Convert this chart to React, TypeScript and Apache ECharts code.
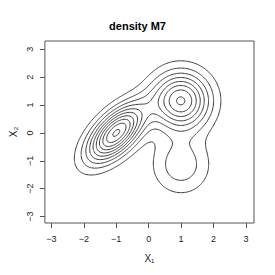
import React, { useEffect, useRef } from "react";
import * as echarts from "echarts";

// Normal-mixture parameters of density M7 (trimodal)
const weights = [3 / 7, 3 / 7, 1 / 7];
const meansX = [-1, 1, 1];
const meansY = [0, 1.1547, -1.1547];
const sdX = [0.6, 0.6, 0.6];
const sdY = [0.7, 0.7, 0.7];
const rho = [0.6, 0, 0];

const levels = [0.02, 0.04, 0.06, 0.08, 0.1, 0.12, 0.14, 0.16, 0.18, 0.2];
const xTicks = [-3, -2, -1, 0, 1, 2, 3];
const yTicks = [-3, -2, -1, 0, 1, 2, 3];

function density(x: number, y: number): number {
  let s = 0;
  for (let k = 0; k < weights.length; k++) {
    const dx = (x - meansX[k]) / sdX[k];
    const dy = (y - meansY[k]) / sdY[k];
    const r = rho[k];
    const q = dx * dx - 2 * r * dx * dy + dy * dy;
    s += (weights[k] / (2 * Math.PI * sdX[k] * sdY[k] * Math.sqrt(1 - r * r))) * Math.exp(-q / (2 * (1 - r * r)));
  }
  return s;
}

function contourLines(level: number, x0: number, y0: number, h: number, n: number, f: number[][]) {
  const pts: Record<string, [number, number]> = {};
  const segs: [string, string][] = [];
  const pt = (key: string, i: number, j: number, horiz: boolean) => {
    if (pts[key]) return key;
    const a = f[i][j];
    const b = horiz ? f[i + 1][j] : f[i][j + 1];
    const t = (level - a) / (b - a);
    pts[key] = horiz ? [x0 + (i + t) * h, y0 + j * h] : [x0 + i * h, y0 + (j + t) * h];
    return key;
  };
  for (let i = 0; i < n - 1; i++) {
    for (let j = 0; j < n - 1; j++) {
      const bl = f[i][j] > level ? 1 : 0;
      const br = f[i + 1][j] > level ? 2 : 0;
      const tr = f[i + 1][j + 1] > level ? 4 : 0;
      const tl = f[i][j + 1] > level ? 8 : 0;
      const c = bl | br | tr | tl;
      if (c === 0 || c === 15) continue;
      const B = () => pt(`h${i},${j}`, i, j, true);
      const T = () => pt(`h${i},${j + 1}`, i, j + 1, true);
      const L = () => pt(`v${i},${j}`, i, j, false);
      const R = () => pt(`v${i + 1},${j}`, i + 1, j, false);
      const center = (f[i][j] + f[i + 1][j] + f[i + 1][j + 1] + f[i][j + 1]) / 4 > level;
      switch (c) {
        case 1: segs.push([L(), B()]); break;
        case 2: segs.push([B(), R()]); break;
        case 3: segs.push([L(), R()]); break;
        case 4: segs.push([R(), T()]); break;
        case 5:
          if (center) { segs.push([B(), R()]); segs.push([T(), L()]); }
          else { segs.push([L(), B()]); segs.push([R(), T()]); }
          break;
        case 6: segs.push([B(), T()]); break;
        case 7: segs.push([L(), T()]); break;
        case 8: segs.push([T(), L()]); break;
        case 9: segs.push([B(), T()]); break;
        case 10:
          if (center) { segs.push([L(), B()]); segs.push([R(), T()]); }
          else { segs.push([B(), R()]); segs.push([T(), L()]); }
          break;
        case 11: segs.push([R(), T()]); break;
        case 12: segs.push([L(), R()]); break;
        case 13: segs.push([B(), R()]); break;
        case 14: segs.push([L(), B()]); break;
      }
    }
  }
  const adj: Record<string, number[]> = {};
  segs.forEach((s, idx) => {
    (adj[s[0]] = adj[s[0]] || []).push(idx);
    (adj[s[1]] = adj[s[1]] || []).push(idx);
  });
  const used = new Array(segs.length).fill(false);
  const lines: [number, number][][] = [];
  for (let s = 0; s < segs.length; s++) {
    if (used[s]) continue;
    used[s] = true;
    const keys = [segs[s][0], segs[s][1]];
    let cur = segs[s][1];
    while (true) {
      const nxt = (adj[cur] || []).find((k) => !used[k]);
      if (nxt === undefined) break;
      used[nxt] = true;
      cur = segs[nxt][0] === cur ? segs[nxt][1] : segs[nxt][0];
      keys.push(cur);
    }
    cur = segs[s][0];
    while (true) {
      const nxt = (adj[cur] || []).find((k) => !used[k]);
      if (nxt === undefined) break;
      used[nxt] = true;
      cur = segs[nxt][0] === cur ? segs[nxt][1] : segs[nxt][0];
      keys.unshift(cur);
    }
    lines.push(keys.map((k) => pts[k]));
  }
  return lines;
}

const fmt = (v: number) => (v < 0 ? "\u2212" + Math.abs(v) : String(v));

export default function App() {
  const ref = useRef<HTMLDivElement>(null);
  useEffect(() => {
    if (!ref.current) return;
    const chart = echarts.init(ref.current, undefined, { renderer: "svg" });
    const x0 = -3.4, y0 = -3.4, h = 0.02;
    const n = Math.round(6.8 / h) + 1;
    const f: number[][] = [];
    for (let i = 0; i < n; i++) {
      const row: number[] = [];
      for (let j = 0; j < n; j++) row.push(density(x0 + i * h, y0 + j * h));
      f.push(row);
    }
    const series: any[] = [];
    levels.forEach((lv) => {
      contourLines(lv, x0, y0, h, n, f).forEach((line) => {
        series.push({
          type: "line",
          data: line,
          showSymbol: false,
          symbol: "none",
          silent: true,
          lineStyle: { color: "#3a3a3a", width: 1 },
        });
      });
    });
    const font = "Liberation Sans, Arial, Helvetica, sans-serif";
    chart.setOption({
      animation: false,
      title: {
        text: "density M7",
        left: "center",
        top: 15,
        textStyle: { fontFamily: font, fontSize: 11, fontWeight: "bold", color: "#000" },
      },
      grid: {
        left: 42,
        right: 21,
        top: 41,
        bottom: 52,
        show: true,
        borderColor: "#555",
        borderWidth: 1,
        backgroundColor: "transparent",
      },
      xAxis: {
        type: "value",
        min: -3.2,
        max: 3.25,
        name: "X\u2081",
        nameLocation: "middle",
        nameGap: 30,
        nameTextStyle: { fontFamily: font, fontSize: 10, color: "#222" },
        axisLine: { show: false, onZero: false },
        splitLine: { show: false },
        axisTick: { show: true, inside: false, length: 5, customValues: xTicks, lineStyle: { color: "#555" } },
        axisLabel: { customValues: xTicks, formatter: fmt, fontFamily: font, fontSize: 9, color: "#222", margin: 11 },
      },
      yAxis: {
        type: "value",
        min: -3.23,
        max: 3.3,
        name: "X\u2082",
        nameLocation: "middle",
        nameRotate: 90,
        nameGap: 23,
        nameTextStyle: { fontFamily: font, fontSize: 10, color: "#222" },
        axisLine: { show: false, onZero: false },
        splitLine: { show: false },
        axisTick: { show: true, inside: false, length: 5, customValues: yTicks, lineStyle: { color: "#555" } },
        axisLabel: { customValues: yTicks, formatter: fmt, rotate: 90, fontFamily: font, fontSize: 9, color: "#222", margin: 10 },
      },
      series,
    });
    return () => chart.dispose();
  }, []);
  return <div ref={ref} style={{ position: "absolute", left: 0, top: 0, width: 275, height: 275 }} />;
}
